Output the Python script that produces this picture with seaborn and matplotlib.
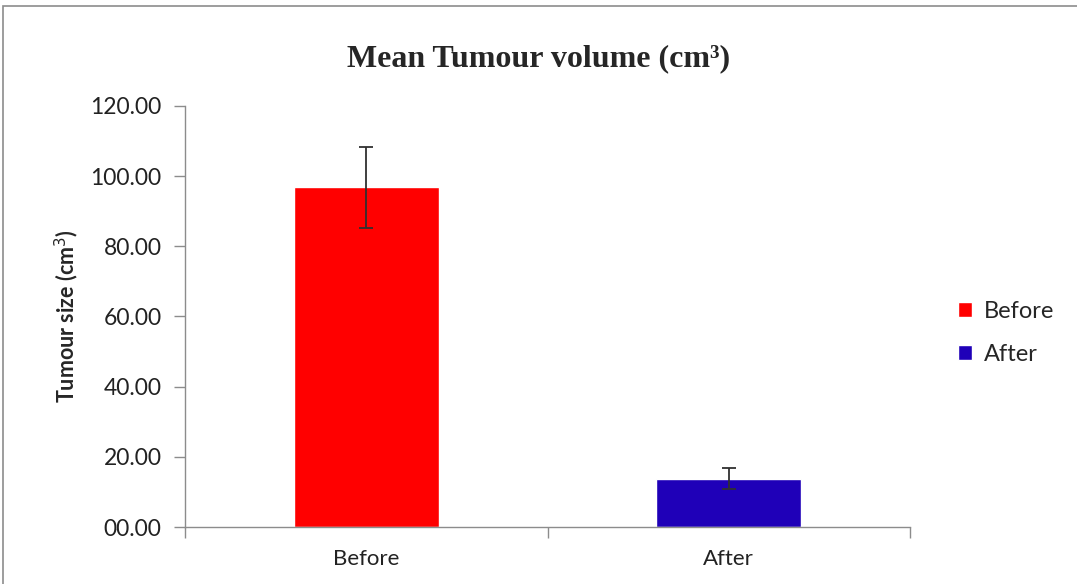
import seaborn as sns
import matplotlib.pyplot as plt
from matplotlib.patches import Patch, Rectangle
from matplotlib.ticker import FormatStrFormatter

categories = ["Before", "After"]
mean_volume = [96.8, 13.7]
error = [11.5, 3.0]
colors = ["#FF0000", "#1F00B8"]

sns.set_style("white")
plt.rcParams['font.family'] = ['Lato', 'DejaVu Sans']

fig = plt.figure(figsize=(10.77, 5.84), dpi=100)
ax = fig.add_axes([0.172, 0.0976, 0.673, 0.721])

sns.barplot(x=categories, y=mean_volume, hue=categories, palette=colors,
            width=0.4, legend=False, ax=ax, saturation=1)
ax.errorbar(x=range(len(categories)), y=mean_volume, yerr=error, fmt="none",
            ecolor="#303030", elinewidth=1.3, capsize=4.7, capthick=1.3)

ax.set_ylim(0, 120)
ax.set_yticks(range(0, 121, 20))
ax.yaxis.set_major_formatter(FormatStrFormatter('%05.2f'))
ax.set_xlim(-0.5, 1.5)

for s in ["top", "right"]:
    ax.spines[s].set_visible(False)
for s in ["left", "bottom"]:
    ax.spines[s].set_color("#8c8c8c")
    ax.spines[s].set_linewidth(1)

ax.tick_params(axis="y", direction="out", length=8, color="#8c8c8c", width=1,
               labelsize=16.5, colors="#222222", left=True, pad=9)
ax.tick_params(axis="x", length=0, labelsize=16, colors="#222222", pad=16)
# category boundary ticks on x axis
ax.set_xticks([-0.5, 0.5, 1.5], minor=True)
ax.tick_params(axis="x", which="minor", direction="out", length=8,
               color="#8c8c8c", width=1, bottom=True)

ax.set_ylabel("Tumour size (cm$^3$)", fontsize=15.5, fontweight="bold", labelpad=7)

fig.text(0.5, 0.9, "Mean Tumour volume (cm³)", ha="center", va="center",
         fontsize=23, fontweight="bold", family=["Liberation Serif", "DejaVu Serif"])

handles = [Patch(facecolor=c, label=l) for c, l in zip(colors, categories)]
fig.legend(handles=handles, loc="center left", bbox_to_anchor=(0.87, 0.43),
           frameon=False, fontsize=17, handlelength=0.6, handleheight=0.6,
           handletextpad=0.5, labelspacing=0.95)

fig.patches.append(Rectangle((0.003, -0.05), 1.1, 1.04, transform=fig.transFigure,
                             fill=False, edgecolor="#8c8c8c", linewidth=1.2))

plt.savefig("out.png", dpi=100)
plt.close()
